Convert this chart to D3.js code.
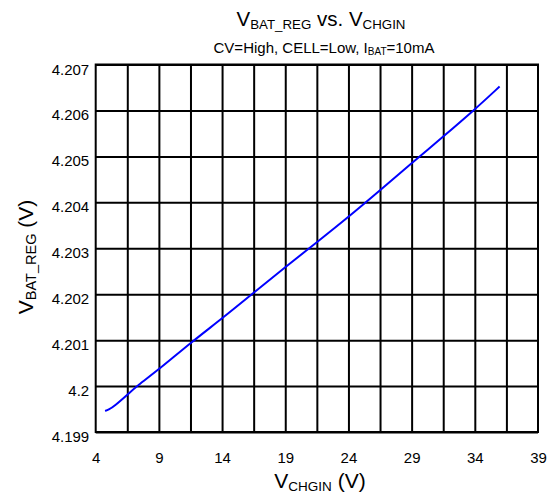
<!DOCTYPE html>
<html>
<head>
<meta charset="utf-8">
<script src="https://cdn.jsdelivr.net/npm/d3@7"></script>
<style>
  body { margin: 0; background: #fff; }
  svg { display: block; font-family: "Liberation Sans", Arial, sans-serif; }
</style>
</head>
<body>
<script>
let w = 559;
let h = 497;

// values
let vchgin  = [4.74, 5.0, 5.5, 6.5, 7.25, 9, 11.5, 14, 16.5, 19, 21.5, 24, 26.5, 29, 31.5, 34, 35.96];
let vbatReg = [4.19946, 4.19948, 4.19957, 4.19981, 4.2, 4.20036, 4.20094, 4.20147, 4.20203, 4.20259,
               4.20313, 4.20368, 4.20426, 4.20485, 4.20543, 4.20602, 4.20652];
let xTickLabels = [4, 9, 14, 19, 24, 29, 34, 39];
let xGrid = [6.5, 9, 11.5, 14, 16.5, 19, 21.5, 24, 26.5, 29, 31.5, 34, 36.5];
let yTickLabels = [4.199, 4.2, 4.201, 4.202, 4.203, 4.204, 4.205, 4.206, 4.207];

let pad = { top: 64.5, rig: w - 538, bot: h - 432, lef: 95.7 };

let svg = d3.select("body").append("svg")
  .attr("width", w).attr("height", h)
  .attr("viewBox", "0 0 " + w + " " + h);

let xScale = d3.scaleLinear().domain([4, 39]).range([pad.lef, w - pad.rig]);
let yScale = d3.scaleLinear().domain([4.199, 4.207]).range([h - pad.bot, pad.top]);

// grid lines
svg.append("g")
  .attr("transform", "translate(0," + (h - pad.bot) + ")")
  .call(d3.axisBottom(xScale).tickValues(xGrid).tickSize(-(h - pad.bot - pad.top)).tickFormat(""))
  .call(g => g.select(".domain").remove())
  .call(g => g.selectAll("line").attr("stroke", "#000").attr("stroke-width", 2));

svg.append("g")
  .attr("transform", "translate(" + pad.lef + ",0)")
  .call(d3.axisLeft(yScale).tickValues(yTickLabels).tickSize(-(w - pad.rig - pad.lef)).tickFormat(""))
  .call(g => g.select(".domain").remove())
  .call(g => g.selectAll("line").attr("stroke", "#000").attr("stroke-width", 2));

// frame
svg.append("rect")
  .attr("x", xScale(4)).attr("y", yScale(4.207))
  .attr("width", xScale(39) - xScale(4))
  .attr("height", yScale(4.199) - yScale(4.207))
  .attr("fill", "none").attr("stroke", "#000").attr("stroke-width", 2);

// tick labels
svg.append("g")
  .attr("transform", "translate(0," + (h - pad.bot) + ")")
  .call(d3.axisBottom(xScale).tickValues(xTickLabels).tickSize(0).tickPadding(0).tickFormat(d => d))
  .call(g => g.select(".domain").remove())
  .call(g => g.selectAll("text")
    .attr("font-family", "Liberation Sans, Arial, sans-serif")
    .attr("font-size", 15).attr("fill", "#000")
    .attr("y", 30.5).attr("dy", null));

svg.append("g")
  .attr("transform", "translate(" + pad.lef + ",0)")
  .call(d3.axisLeft(yScale).tickValues(yTickLabels).tickSize(0).tickPadding(6.5).tickFormat(d3.format("")))
  .call(g => g.select(".domain").remove())
  .call(g => g.selectAll("text")
    .attr("font-family", "Liberation Sans, Arial, sans-serif")
    .attr("font-size", 15).attr("fill", "#000")
    .attr("dy", 9.5));

// curve
let line = d3.line()
  .x((d, i) => xScale(vchgin[i]))
  .y(d => yScale(d))
  .curve(d3.curveBasis);

svg.append("path")
  .datum(vbatReg)
  .attr("d", line)
  .attr("fill", "none")
  .attr("stroke", "#0000ff")
  .attr("stroke-width", 2);

// titles
let title = svg.append("text")
  .attr("x", 321).attr("y", 26)
  .attr("text-anchor", "middle")
  .attr("font-size", 20.5);
title.append("tspan").text("V");
title.append("tspan").attr("font-size", 13.3).attr("dy", 3).text("BAT_REG");
title.append("tspan").attr("dy", -3).text(" vs. V");
title.append("tspan").attr("font-size", 13.3).attr("dy", 3).text("CHGIN");

let sub = svg.append("text")
  .attr("x", 324).attr("y", 53)
  .attr("text-anchor", "middle")
  .attr("font-size", 15);
sub.append("tspan").text("CV=High, CELL=Low, I");
sub.append("tspan").attr("font-size", 10).attr("dy", 2).text("BAT");
sub.append("tspan").attr("dy", -2).text("=10mA");

let xLab = svg.append("text")
  .attr("x", 320).attr("y", 488)
  .attr("text-anchor", "middle")
  .attr("font-size", 21);
xLab.append("tspan").text("V");
xLab.append("tspan").attr("font-size", 13.5).attr("dy", 3).text("CHGIN");
xLab.append("tspan").attr("dy", -3).text(" (V)");

let yLab = svg.append("text")
  .attr("transform", "translate(33," + 257 + ") rotate(-90)")
  .attr("text-anchor", "middle")
  .attr("font-size", 21);
yLab.append("tspan").text("V");
yLab.append("tspan").attr("font-size", 14.5).attr("dy", 3).text("BAT_REG");
yLab.append("tspan").attr("dy", -3).text(" (V)");
</script>
</body>
</html>
